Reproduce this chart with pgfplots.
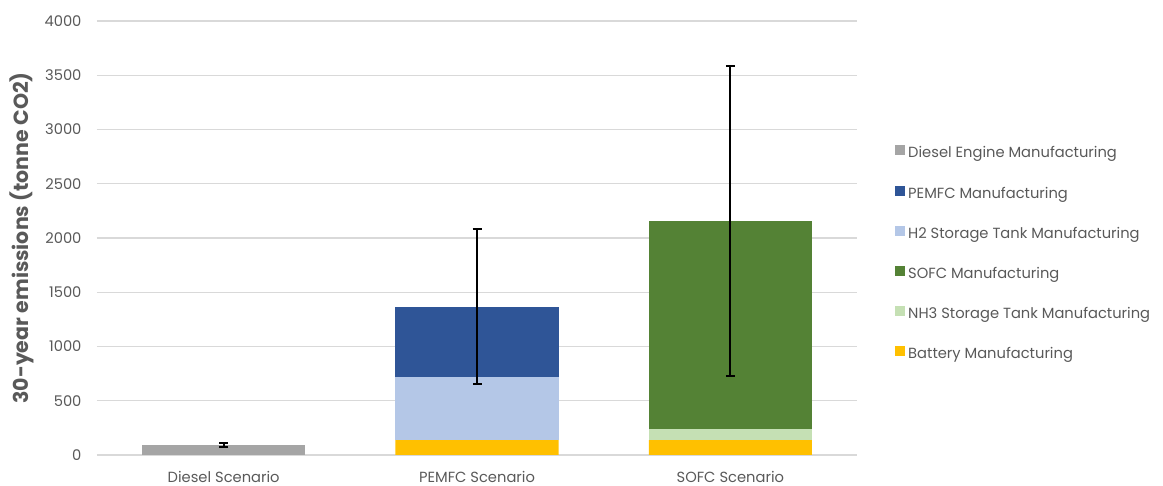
\documentclass[border=0pt]{standalone}
\usepackage{pgfplots}
\pgfplotsset{compat=1.18}
\usepackage{fontspec}
\setmainfont{Poppins}
\definecolor{dieselgray}{HTML}{A5A5A5}
\definecolor{pemblue}{HTML}{2F5597}
\definecolor{htwo}{HTML}{B4C7E7}
\definecolor{sofcgreen}{HTML}{548235}
\definecolor{nhthree}{HTML}{C5E0B4}
\definecolor{battery}{HTML}{FFC000}
\definecolor{gridgray}{HTML}{D9D9D9}
\definecolor{textgray}{HTML}{595959}
\begin{document}
\begin{tikzpicture}[x=1pt,y=1pt]
\path[use as bounding box] (-97,-31) rectangle (1066,455);
\pgfplotsset{
  common/.style={
    at={(0,0)}, anchor=south west,
    scale only axis, width=760pt, height=434pt,
    xmin=-0.5, xmax=2.5, ymin=0, ymax=4000,
  }
}
\begin{axis}[common,
  ybar stacked, bar width=163pt,
  axis line style={draw=none}, major tick length=0pt,
  ytick={0,500,...,4000}, ymajorgrids, grid style={gridgray, line width=1.2pt},
  /pgf/number format/assume math mode=true,
  /pgf/number format/1000 sep={},
  xtick={0,1,2}, xticklabels={Diesel Scenario, PEMFC Scenario, SOFC Scenario},
  tick label style={font=\fontsize{14.7}{17}\selectfont, text=textgray},
  yticklabel style={xshift=-12pt},
  xticklabel style={yshift=-13pt},
  ylabel={\bfseries 30-year emissions (tonne CO2)},
  ylabel style={at={(axis description cs:-0.0987,0.5)}, anchor=center, font=\fontsize{20.5}{24}\selectfont, text=textgray},
  legend style={at={(axis description cs:1.05,0.7138)}, anchor=north west, draw=none, fill=none, inner sep=0pt,
    font=\fontsize{14.7}{17}\selectfont, text=textgray, row sep=23.6pt, column sep=3pt,
    nodes={inner sep=0pt, text height=11pt, text depth=4pt}},
  legend cell align=left,
  legend image code/.code={\fill[#1, draw=none] (0pt,-1pt) rectangle (10pt,9pt);},
  legend entries={Diesel Engine Manufacturing, PEMFC Manufacturing, H2 Storage Tank Manufacturing, SOFC Manufacturing, NH3 Storage Tank Manufacturing, Battery Manufacturing},
]
\addlegendimage{fill=dieselgray}
\addlegendimage{fill=pemblue}
\addlegendimage{fill=htwo}
\addlegendimage{fill=sofcgreen}
\addlegendimage{fill=nhthree}
\addlegendimage{fill=battery}
% stacked bars, bottom to top
\addplot[fill=battery, draw=none] coordinates {(0,0) (1,136) (2,136)};
\addplot[fill=htwo, draw=none] coordinates {(0,0) (1,586) (2,0)};
\addplot[fill=nhthree, draw=none] coordinates {(0,0) (1,0) (2,101)};
\addplot[fill=pemblue, draw=none] coordinates {(0,0) (1,645) (2,0)};
\addplot[fill=sofcgreen, draw=none] coordinates {(0,0) (1,0) (2,1920)};
\addplot[fill=dieselgray, draw=none] coordinates {(0,92) (1,0) (2,0)};
\end{axis}
\begin{axis}[common, hide axis]
\addplot[draw=none, mark=none, forget plot,
  error bars/.cd, y dir=both, y explicit,
  error bar style={draw=black, line width=2pt},
  error mark options={draw=black, line width=2pt, mark size=4.5pt, rotate=90}]
  coordinates {(0,92) +- (0,20) (1,1367) +- (0,715) (2,2157) +- (0,1425)};
\end{axis}
\end{tikzpicture}
\end{document}
